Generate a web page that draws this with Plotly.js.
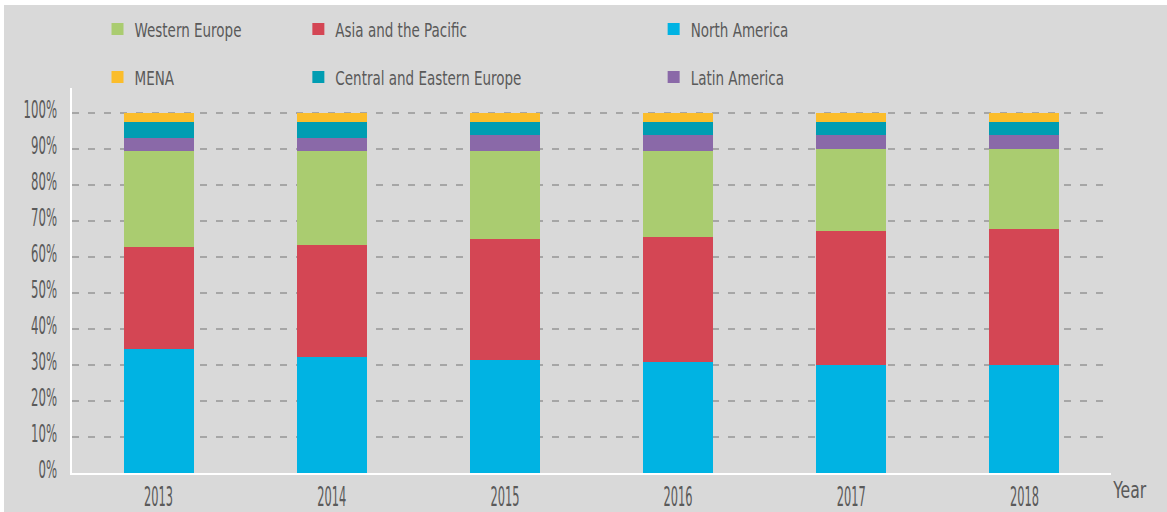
<!DOCTYPE html>
<html>
<head>
<meta charset="utf-8">
<script src="https://cdn.plot.ly/plotly-3.0.1.min.js"></script>
<style>
  html, body { margin: 0; padding: 0; background: #ffffff; width: 1167px; height: 512px; overflow: hidden; }
  #chart { position: absolute; left: 4px; top: 5px; width: 1163px; height: 507px; }
</style>
</head>
<body>
<div id="chart"></div>
<script>
// ---- data (percent share by region) ----
const years = ['2013', '2014', '2015', '2016', '2017', '2018'];
const northAmerica   = [34.4, 32.2, 31.4, 30.8, 30.0, 30.0];
const asiaPacific    = [28.4, 31.1, 33.6, 34.8, 37.2, 37.8];
const westernEurope  = [26.6, 26.1, 24.4, 23.8, 22.8, 22.2];
const latinAmerica   = [3.7, 3.7, 4.5, 4.5, 3.9, 3.9];
const centralEastern = [4.4, 4.4, 3.6, 3.6, 3.6, 3.6];
const mena           = [2.5, 2.5, 2.5, 2.5, 2.5, 2.5];
const yTicks = [0, 10, 20, 30, 40, 50, 60, 70, 80, 90, 100];
const yTickText = ['0%', '10%', '20%', '30%', '40%', '50%', '60%', '70%', '80%', '90%', '100%'];

const FONT = '"DejaVu Sans Condensed", "DejaVu Sans", sans-serif';
const TXT = '#5a5a5a';

function bar(name, vals, color, legend) {
  return {
    type: 'bar', name: name, x: years, y: vals,
    marker: { color: color, line: { width: 0 } },
    legend: legend, legendgroup: name,
    hoverinfo: 'x+y+name'
  };
}

const data = [
  bar('North America', northAmerica, '#00b3e3', 'legend3'),
  bar('Asia and the Pacific', asiaPacific, '#d44654', 'legend2'),
  bar('Western Europe', westernEurope, '#aacc70', 'legend'),
  bar('Latin America', latinAmerica, '#8a69a8', 'legend3'),
  bar('Central and Eastern Europe', centralEastern, '#009db2', 'legend2'),
  bar('MENA', mena, '#fbbd2b', 'legend')
];

function leg(x) {
  return {
    xref: 'container', yref: 'container',
    x: x, y: 0.991, xanchor: 'left', yanchor: 'top',
    orientation: 'v', traceorder: 'grouped', tracegroupgap: 19,
    bgcolor: 'rgba(0,0,0,0)', borderwidth: 0,
    font: { family: FONT, size: 20, color: TXT }
  };
}

const layout = {
  width: 1163, height: 507,
  paper_bgcolor: '#d9d9d9', plot_bgcolor: '#d9d9d9',
  margin: { l: 68, r: 56, t: 83, b: 39, pad: 0, autoexpand: false },
  barmode: 'stack', bargap: 0.595,
  font: { family: FONT, color: TXT },
  showlegend: true,
  legend: leg(0.0804),
  legend2: leg(0.2531),
  legend3: leg(0.5586),
  xaxis: {
    type: 'category', tickangle: 0,
    showline: true, linecolor: '#ffffff', linewidth: 2,
    showgrid: false, zeroline: false, ticks: '',
    tickfont: { family: FONT, size: 26, color: TXT },
    ticklabelstandoff: 0
  },
  yaxis: {
    range: [0, 107],
    tickvals: yTicks, ticktext: yTickText,
    showline: true, linecolor: '#ffffff', linewidth: 2,
    showgrid: true, gridcolor: '#a6a6a6', gridwidth: 1.5, griddash: '7px,9px',
    zeroline: false, ticks: '',
    tickfont: { family: FONT, size: 25, color: TXT },
    ticklabelstandoff: 8
  },
  annotations: [{
    text: 'Year', xref: 'paper', yref: 'paper', x: 1, y: 0,
    xanchor: 'left', yanchor: 'middle', xshift: -6, yshift: -17,
    showarrow: false, font: { family: FONT, size: 23, color: TXT }
  }]
};

// narrow the text horizontally to mimic the condensed typeface of the original
const scales = {};
function squeeze(key, selector, refText, targetWidth, dx, dy) {
  const els = Array.from(document.querySelectorAll(selector));
  if (!els.length) return;
  if (!scales[key]) {
    const ref = els.find(e => e.textContent.trim() === refText);
    if (!ref) return;
    const w = ref.getBBox().width;
    if (!w) return;
    scales[key] = targetWidth / w;
  }
  const s = scales[key];
  els.forEach(el => {
    const cur = el.getAttribute('transform') || '';
    if (el.getAttribute('data-sqt') === cur && cur !== '') return;
    const x = parseFloat(el.getAttribute('x')) || 0;
    const y = parseFloat(el.getAttribute('y')) || 0;
    const t = cur + ' translate(' + (x + dx) + ',' + (y + dy) + ') scale(' + s + ',1) translate(' + (-x) + ',' + (-y) + ')';
    el.setAttribute('data-sqt', t);
    el.setAttribute('transform', t);
  });
}
function squeezeAll() {
  squeeze('leg', '.legendtext, .legend2text, .legend3text', 'Western Europe', 107, -3, 0);
  squeeze('y', '.yaxislayer-above .ytick text', '90%', 26, 0, -4);
  squeeze('x', '.xaxislayer-above .xtick text', '2013', 29, 0, 0);
  squeeze('ann', '.annotation-text', 'Year', 34, 0, 0);
}

const gd = document.getElementById('chart');
const obs = new MutationObserver(() => squeezeAll());
obs.observe(gd, { childList: true, subtree: true, attributes: true, attributeFilter: ['transform', 'x', 'y'] });
Plotly.newPlot(gd, data, layout, { displayModeBar: false, staticPlot: true }).then(() => {
  squeezeAll();
  requestAnimationFrame(squeezeAll);
  setTimeout(squeezeAll, 50);
});
</script>
</body>
</html>
